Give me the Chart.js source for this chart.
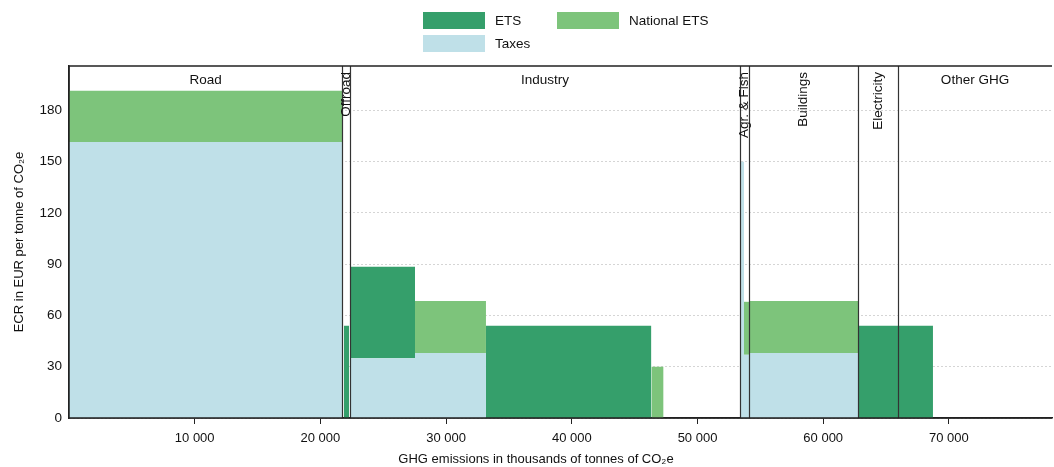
<!DOCTYPE html>
<html>
<head>
<meta charset="utf-8">
<script src="https://cdn.jsdelivr.net/npm/chart.js@4.4.1/dist/chart.umd.min.js"></script>
<style>
  html, body { margin: 0; padding: 0; background: #fff; }
  #wrap { position: relative; width: 1054px; height: 467px; }
  #legend {
    position: absolute; left: 423px; top: 12px;
    display: grid; grid-template-columns: 134px 160px; row-gap: 6px;
    font: 13.5px "Liberation Sans", Arial, sans-serif; color: #111; white-space: nowrap;
  }
  .item { display: flex; align-items: center; height: 17px; }
  .box { width: 62px; height: 17px; margin-right: 10px; flex: none; }
</style>
</head>
<body>
<div id="wrap">
  <canvas id="c" width="1054" height="467"></canvas>
  <div id="legend"></div>
</div>
<script>
// ---- data ----
// segments on the x axis (thousands of tonnes of CO2e, cumulative)
const segStart = [0, 21860, 22350, 27525, 33170, 46330, 53400, 53700, 54100, 62770, 65950];
const segEnd   = [21720, 22280, 27525, 33170, 46330, 47300, 53700, 54100, 62770, 65950, 68730];
// effective carbon rate components, EUR per tonne
const taxes  = [161.5, 0, 35, 38, 0, 0, 150, 37, 38, 0, 0];
const ets    = [0, 54, 53.5, 0, 54, 0, 0, 0, 0, 54, 54];
const natEts = [30, 0, 0, 30.5, 0, 30, 0, 31, 30.5, 0, 0];

// sectors shown across the top
const regionNames = ['Road', 'Offroad', 'Industry', 'Agr. & Fish', 'Buildings', 'Electricity', 'Other GHG'];
const regionEnds  = [21720, 22350, 53380, 54100, 62770, 65950, 78200];

const seriesNames  = ['ETS', 'National ETS', 'Taxes'];
const seriesColors = ['#359f6b', '#7dc47b', '#bfe0e8'];

const xTicks = [10000, 20000, 30000, 40000, 50000, 60000, 70000];
const yTicks = [0, 30, 60, 90, 120, 150, 180];

const FONT = '"Liberation Sans", Arial, sans-serif';

// ---- build one filled rectangle per segment/layer ----
function rect(x0, x1, y0, y1, color) {
  return {
    type: 'line',
    data: [{ x: x0, y: y1 }, { x: x1, y: y1 }],
    fill: { value: y0 },
    backgroundColor: color,
    borderWidth: 0,
    pointRadius: 0,
    tension: 0
  };
}

const datasets = [];
segStart.forEach((s, i) => {
  const e = segEnd[i];
  let base = 0;
  if (taxes[i] > 0) { datasets.push(rect(s, e, base, base + taxes[i], seriesColors[2])); base += taxes[i]; }
  if (ets[i] > 0)   { datasets.push(rect(s, e, base, base + ets[i], seriesColors[0])); base += ets[i]; }
  if (natEts[i] > 0){ datasets.push(rect(s, e, base, base + natEts[i], seriesColors[1])); base += natEts[i]; }
});

// ---- legend ----
const legend = document.getElementById('legend');
seriesNames.forEach((n, i) => {
  const it = document.createElement('div');
  it.className = 'item';
  it.innerHTML = `<span class="box" style="background:${seriesColors[i]}"></span><span>${n}</span>`;
  legend.appendChild(it);
});

// ---- sector lines, labels, frame and x title ----
const sectorPlugin = {
  id: 'sectors',
  afterDatasetsDraw(chart) {
    const { ctx, chartArea: a, scales: { x } } = chart;
    ctx.save();

    ctx.strokeStyle = '#333';
    ctx.lineWidth = 1.2;
    regionEnds.slice(0, -1).forEach(v => {
      const px = Math.round(x.getPixelForValue(v)) + 0.5;
      ctx.beginPath();
      ctx.moveTo(px, a.top);
      ctx.lineTo(px, a.bottom);
      ctx.stroke();
    });

    // frame: top, left, bottom (over the fills)
    ctx.strokeStyle = '#222';
    ctx.lineWidth = 1.5;
    ctx.beginPath();
    ctx.moveTo(a.right, a.top);
    ctx.lineTo(a.left, a.top);
    ctx.lineTo(a.left, a.bottom);
    ctx.lineTo(a.right, a.bottom);
    ctx.stroke();

    ctx.font = '13.5px ' + FONT;
    ctx.fillStyle = '#111';
    regionNames.forEach((name, i) => {
      const s = i ? regionEnds[i - 1] : 0;
      const e = Math.min(regionEnds[i], x.max);
      const cx = (x.getPixelForValue(s) + x.getPixelForValue(e)) / 2;
      if (e - s >= 10000) {
        ctx.textAlign = 'center';
        ctx.textBaseline = 'middle';
        ctx.fillText(name, cx, a.top + 14);
      } else {
        ctx.save();
        ctx.translate(cx, a.top + 6);
        ctx.rotate(-Math.PI / 2);
        ctx.textAlign = 'right';
        ctx.textBaseline = 'middle';
        ctx.fillText(name, 0, 0);
        ctx.restore();
      }
    });

    ctx.font = '13px ' + FONT;
    ctx.textAlign = 'center';
    ctx.textBaseline = 'middle';
    ctx.fillText('GHG emissions in thousands of tonnes of CO₂e', 536, 459);
    ctx.restore();
  }
};

new Chart(document.getElementById('c'), {
  type: 'line',
  data: { datasets },
  options: {
    responsive: false,
    animation: false,
    layout: { padding: { top: 66, right: 2, left: 0, bottom: 0 } },
    plugins: { legend: { display: false }, tooltip: { enabled: false } },
    scales: {
      x: {
        type: 'linear',
        min: 0,
        max: 78200,
        afterFit(scale) { scale.height = 49; },
        afterBuildTicks(scale) { scale.ticks = xTicks.map(v => ({ value: v })); },
        ticks: {
          padding: 7,
          color: '#111',
          font: { family: FONT, size: 13 },
          maxRotation: 0,
          autoSkip: false,
          callback: v => String(v).replace(/\B(?=(\d{3})+(?!\d))/g, ' ')
        },
        grid: { display: true, drawOnChartArea: false, drawTicks: true, tickLength: 6, color: '#222' },
        border: { display: true, color: '#222', width: 1.5 }
      },
      y: {
        min: 0,
        max: 206,
        afterFit(scale) { scale.width = 69; },
        afterBuildTicks(scale) { scale.ticks = yTicks.map(v => ({ value: v })); },
        ticks: {
          padding: 7,
          color: '#111',
          font: { family: FONT, size: 13.5 }
        },
        grid: { color: '#aaa', lineWidth: 1, drawTicks: false },
        border: { display: true, color: '#222', width: 1.5, dash: [1, 3] },
        title: {
          display: true,
          text: 'ECR in EUR per tonne of CO₂e',
          color: '#111',
          font: { family: FONT, size: 13 },
          padding: { top: 12, bottom: 0 }
        }
      }
    }
  },
  plugins: [sectorPlugin]
});
</script>
</body>
</html>
